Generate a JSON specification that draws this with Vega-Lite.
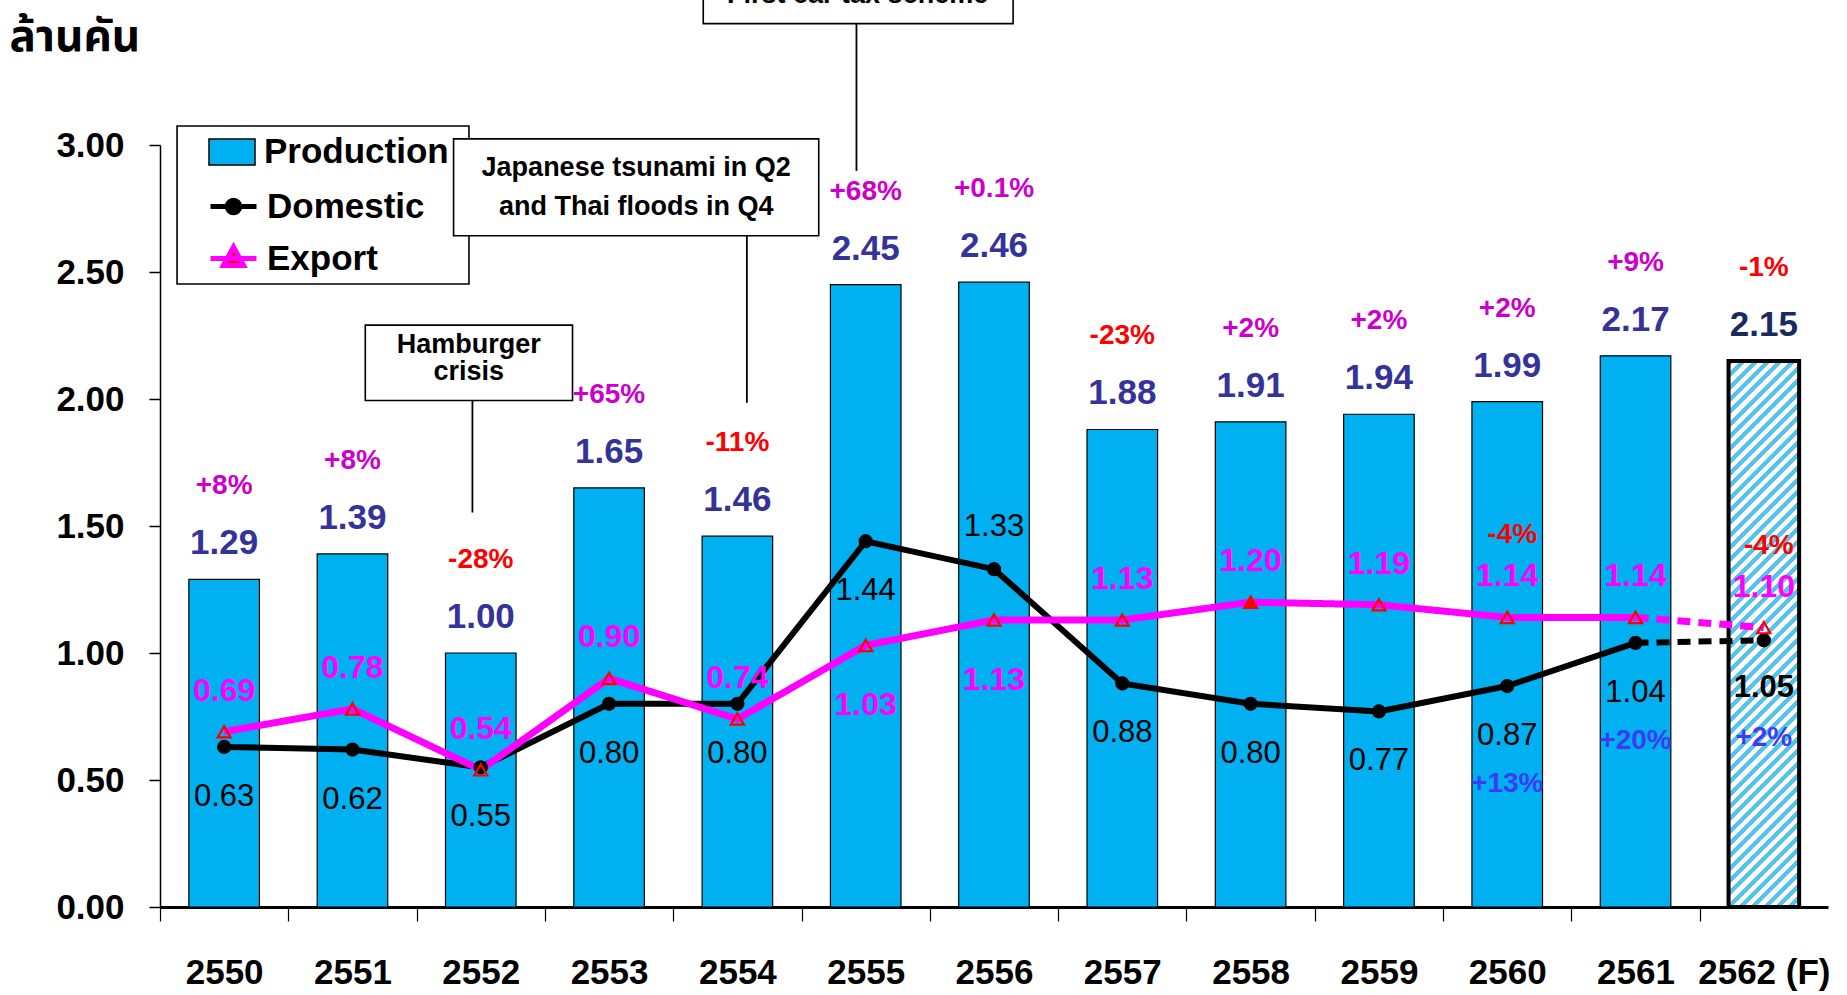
{
  "$schema": "https://vega.github.io/schema/vega-lite/v6.json",
  "width": 1668,
  "height": 762,
  "autosize": {"type": "none"},
  "padding": {"left": 160, "top": 145, "right": 19, "bottom": 88},
  "background": "white",
  "config": {"view": {"stroke": null}, "font": "Liberation Sans"},
  "datasets": {
    "main": [
      {"year": "2550", "prod": 1.29, "dom": 0.63, "exp": 0.69, "pg": "+8%"},
      {"year": "2551", "prod": 1.39, "dom": 0.62, "exp": 0.78, "pg": "+8%"},
      {"year": "2552", "prod": 1.00, "dom": 0.55, "exp": 0.54, "pg": "-28%"},
      {"year": "2553", "prod": 1.65, "dom": 0.80, "exp": 0.90, "pg": "+65%"},
      {"year": "2554", "prod": 1.46, "dom": 0.80, "exp": 0.74, "pg": "-11%"},
      {"year": "2555", "prod": 2.45, "dom": 1.44, "exp": 1.03, "pg": "+68%"},
      {"year": "2556", "prod": 2.46, "dom": 1.33, "exp": 1.13, "pg": "+0.1%"},
      {"year": "2557", "prod": 1.88, "dom": 0.88, "exp": 1.13, "pg": "-23%"},
      {"year": "2558", "prod": 1.91, "dom": 0.80, "exp": 1.20, "pg": "+2%"},
      {"year": "2559", "prod": 1.94, "dom": 0.77, "exp": 1.19, "pg": "+2%"},
      {"year": "2560", "prod": 1.99, "dom": 0.87, "exp": 1.14, "pg": "+2%", "dg": "+13%", "eg": "-4%"},
      {"year": "2561", "prod": 2.17, "dom": 1.04, "exp": 1.14, "pg": "+9%", "dg": "+20%"},
      {"year": "2562 (F)", "prod": 2.15, "dom": 1.05, "exp": 1.10, "pg": "-1%", "dg": "+2%", "eg": "-4%"}
    ],
    "ann": [
      {"kind": "box", "x": 0.133, "x2": 2.408, "y": 3.075, "y2": 2.453},
      {"kind": "box", "x": 1.60, "x2": 3.215, "y": 2.291, "y2": 1.994},
      {"kind": "box", "x": 2.288, "x2": 5.134, "y": 3.024, "y2": 2.643},
      {"kind": "box", "x": 4.234, "x2": 6.649, "y": 3.8, "y2": 3.478},
      {"kind": "rule", "x": 2.435, "y": 1.994, "y2": 1.553},
      {"kind": "rule", "x": 4.574, "y": 2.643, "y2": 1.985},
      {"kind": "rule", "x": 5.428, "y": 3.478, "y2": 2.898},
      {"kind": "text", "x": 2.407, "y": 2.213, "text": "Hamburger"},
      {"kind": "text", "x": 2.407, "y": 2.106, "text": "crisis"},
      {"kind": "text", "x": 3.711, "y": 2.908, "text": "Japanese tsunami in Q2"},
      {"kind": "text", "x": 3.711, "y": 2.755, "text": "and Thai floods in Q4"},
      {"kind": "text", "x": 5.437, "y": 3.59, "text": "First car tax scheme"}
    ]
  },
  "layer": [
    {
      "data": {"name": "ann"},
      "layer": [
        {
          "transform": [{"filter": "datum.kind === 'box'"}],
          "mark": {"type": "rect", "fill": "white", "stroke": "black", "strokeWidth": 1.6, "clip": false},
          "encoding": {
            "x": {"field": "x", "type": "quantitative", "scale": {"domain": [0, 13], "nice": false, "zero": false}, "axis": null},
            "x2": {"field": "x2"},
            "y": {"field": "y", "type": "quantitative", "scale": {"domain": [0, 3], "nice": false}},
            "y2": {"field": "y2"}
          }
        },
        {
          "transform": [{"filter": "datum.kind === 'rule'"}],
          "mark": {"type": "rule", "stroke": "black", "strokeWidth": 1.8},
          "encoding": {
            "x": {"field": "x", "type": "quantitative", "axis": null},
            "y": {"field": "y", "type": "quantitative"},
            "y2": {"field": "y2"}
          }
        },
        {
          "transform": [{"filter": "datum.kind === 'text'"}],
          "mark": {"type": "text", "font": "Liberation Sans", "fontSize": 27, "fontWeight": "bold", "fill": "black", "baseline": "middle", "align": "center"},
          "encoding": {
            "x": {"field": "x", "type": "quantitative", "axis": null},
            "y": {"field": "y", "type": "quantitative"},
            "text": {"field": "text", "type": "nominal"}
          }
        }
      ]
    },
    {
      "data": {"name": "main"},
      "layer": [
        {
          "transform": [{"filter": "datum.year !== '2562 (F)'"}],
          "mark": {"type": "bar", "stroke": "black", "strokeWidth": 1.2},
          "encoding": {
            "x": {
              "field": "year", "type": "nominal",
              "scale": {"paddingInner": 0.45, "paddingOuter": 0.225},
              "axis": {
                "title": null, "labelAngle": 0, "labelOverlap": false, "labelFlush": false,
                "labelFont": "Liberation Sans", "labelFontSize": 35, "labelFontWeight": "bold", "labelColor": "black",
                "labelPadding": 34, "labelBaseline": "top",
                "tickSize": 14, "tickColor": "black", "tickWidth": 1.2,
                "domainColor": "black", "domainWidth": 3,
                "bandPosition": 0, "tickOffset": -28.9, "labelOffset": 28.9
              }
            },
            "y": {
              "field": "prod", "type": "quantitative",
              "scale": {"domain": [0, 3], "nice": false},
              "axis": {
                "values": [0, 0.5, 1, 1.5, 2, 2.5, 3], "format": ".2f", "grid": false,
                "labelFont": "Liberation Sans", "labelFontSize": 35, "labelFontWeight": "bold", "labelColor": "black",
                "labelPadding": 25, "tickSize": 11, "tickColor": "black", "tickWidth": 1.5,
                "domainColor": "black", "domainWidth": 1.5,
                "title": "ล้านคัน", "titleAngle": 0, "titleAlign": "left", "titleBaseline": "alphabetic",
                "titleX": -151, "titleY": -95,
                "titleFont": "Noto Sans Thai, Tahoma, Garuda, Loma, DejaVu Sans, sans-serif",
                "titleFontSize": 44, "titleFontWeight": "bold", "titleColor": "black"
              }
            },
            "fill": {
              "datum": "Production", "type": "nominal",
              "scale": {"range": ["#00b0f0"]},
              "legend": {
                "orient": "none", "legendX": 48, "legendY": -17, "title": null, "padding": 0,
                "symbolType": "M-1,-0.57H1V0.57H-1Z", "symbolSize": 2116,
                "symbolStrokeColor": "black", "symbolStrokeWidth": 1.5, "symbolOpacity": 1,
                "labelFont": "Liberation Sans", "labelFontSize": 35, "labelFontWeight": "bold",
                "labelColor": "black", "labelOffset": 8, "labelLimit": 400
              }
            }
          }
        },
        {
          "transform": [{"filter": "datum.year === '2562 (F)'"}],
          "mark": {
            "type": "bar", "stroke": "black", "strokeWidth": 4,
            "fill": {
              "gradient": "linear", "x1": 0, "y1": 0, "x2": 0.1436, "y2": 1.1107,
              "stops": [
                {"offset": 0, "color": "#55c3ee"}, {"offset": 0.01, "color": "#55c3ee"}, {"offset": 0.01, "color": "#ffffff"}, {"offset": 0.02, "color": "#ffffff"},
                {"offset": 0.02, "color": "#55c3ee"}, {"offset": 0.03, "color": "#55c3ee"}, {"offset": 0.03, "color": "#ffffff"}, {"offset": 0.04, "color": "#ffffff"},
                {"offset": 0.04, "color": "#55c3ee"}, {"offset": 0.05, "color": "#55c3ee"}, {"offset": 0.05, "color": "#ffffff"}, {"offset": 0.06, "color": "#ffffff"},
                {"offset": 0.06, "color": "#55c3ee"}, {"offset": 0.07, "color": "#55c3ee"}, {"offset": 0.07, "color": "#ffffff"}, {"offset": 0.08, "color": "#ffffff"},
                {"offset": 0.08, "color": "#55c3ee"}, {"offset": 0.09, "color": "#55c3ee"}, {"offset": 0.09, "color": "#ffffff"}, {"offset": 0.10, "color": "#ffffff"},
                {"offset": 0.10, "color": "#55c3ee"}, {"offset": 0.11, "color": "#55c3ee"}, {"offset": 0.11, "color": "#ffffff"}, {"offset": 0.12, "color": "#ffffff"},
                {"offset": 0.12, "color": "#55c3ee"}, {"offset": 0.13, "color": "#55c3ee"}, {"offset": 0.13, "color": "#ffffff"}, {"offset": 0.14, "color": "#ffffff"},
                {"offset": 0.14, "color": "#55c3ee"}, {"offset": 0.15, "color": "#55c3ee"}, {"offset": 0.15, "color": "#ffffff"}, {"offset": 0.16, "color": "#ffffff"},
                {"offset": 0.16, "color": "#55c3ee"}, {"offset": 0.17, "color": "#55c3ee"}, {"offset": 0.17, "color": "#ffffff"}, {"offset": 0.18, "color": "#ffffff"},
                {"offset": 0.18, "color": "#55c3ee"}, {"offset": 0.19, "color": "#55c3ee"}, {"offset": 0.19, "color": "#ffffff"}, {"offset": 0.20, "color": "#ffffff"},
                {"offset": 0.20, "color": "#55c3ee"}, {"offset": 0.21, "color": "#55c3ee"}, {"offset": 0.21, "color": "#ffffff"}, {"offset": 0.22, "color": "#ffffff"},
                {"offset": 0.22, "color": "#55c3ee"}, {"offset": 0.23, "color": "#55c3ee"}, {"offset": 0.23, "color": "#ffffff"}, {"offset": 0.24, "color": "#ffffff"},
                {"offset": 0.24, "color": "#55c3ee"}, {"offset": 0.25, "color": "#55c3ee"}, {"offset": 0.25, "color": "#ffffff"}, {"offset": 0.26, "color": "#ffffff"},
                {"offset": 0.26, "color": "#55c3ee"}, {"offset": 0.27, "color": "#55c3ee"}, {"offset": 0.27, "color": "#ffffff"}, {"offset": 0.28, "color": "#ffffff"},
                {"offset": 0.28, "color": "#55c3ee"}, {"offset": 0.29, "color": "#55c3ee"}, {"offset": 0.29, "color": "#ffffff"}, {"offset": 0.30, "color": "#ffffff"},
                {"offset": 0.30, "color": "#55c3ee"}, {"offset": 0.31, "color": "#55c3ee"}, {"offset": 0.31, "color": "#ffffff"}, {"offset": 0.32, "color": "#ffffff"},
                {"offset": 0.32, "color": "#55c3ee"}, {"offset": 0.33, "color": "#55c3ee"}, {"offset": 0.33, "color": "#ffffff"}, {"offset": 0.34, "color": "#ffffff"},
                {"offset": 0.34, "color": "#55c3ee"}, {"offset": 0.35, "color": "#55c3ee"}, {"offset": 0.35, "color": "#ffffff"}, {"offset": 0.36, "color": "#ffffff"},
                {"offset": 0.36, "color": "#55c3ee"}, {"offset": 0.37, "color": "#55c3ee"}, {"offset": 0.37, "color": "#ffffff"}, {"offset": 0.38, "color": "#ffffff"},
                {"offset": 0.38, "color": "#55c3ee"}, {"offset": 0.39, "color": "#55c3ee"}, {"offset": 0.39, "color": "#ffffff"}, {"offset": 0.40, "color": "#ffffff"},
                {"offset": 0.40, "color": "#55c3ee"}, {"offset": 0.41, "color": "#55c3ee"}, {"offset": 0.41, "color": "#ffffff"}, {"offset": 0.42, "color": "#ffffff"},
                {"offset": 0.42, "color": "#55c3ee"}, {"offset": 0.43, "color": "#55c3ee"}, {"offset": 0.43, "color": "#ffffff"}, {"offset": 0.44, "color": "#ffffff"},
                {"offset": 0.44, "color": "#55c3ee"}, {"offset": 0.45, "color": "#55c3ee"}, {"offset": 0.45, "color": "#ffffff"}, {"offset": 0.46, "color": "#ffffff"},
                {"offset": 0.46, "color": "#55c3ee"}, {"offset": 0.47, "color": "#55c3ee"}, {"offset": 0.47, "color": "#ffffff"}, {"offset": 0.48, "color": "#ffffff"},
                {"offset": 0.48, "color": "#55c3ee"}, {"offset": 0.49, "color": "#55c3ee"}, {"offset": 0.49, "color": "#ffffff"}, {"offset": 0.50, "color": "#ffffff"},
                {"offset": 0.50, "color": "#55c3ee"}, {"offset": 0.51, "color": "#55c3ee"}, {"offset": 0.51, "color": "#ffffff"}, {"offset": 0.52, "color": "#ffffff"},
                {"offset": 0.52, "color": "#55c3ee"}, {"offset": 0.53, "color": "#55c3ee"}, {"offset": 0.53, "color": "#ffffff"}, {"offset": 0.54, "color": "#ffffff"},
                {"offset": 0.54, "color": "#55c3ee"}, {"offset": 0.55, "color": "#55c3ee"}, {"offset": 0.55, "color": "#ffffff"}, {"offset": 0.56, "color": "#ffffff"},
                {"offset": 0.56, "color": "#55c3ee"}, {"offset": 0.57, "color": "#55c3ee"}, {"offset": 0.57, "color": "#ffffff"}, {"offset": 0.58, "color": "#ffffff"},
                {"offset": 0.58, "color": "#55c3ee"}, {"offset": 0.59, "color": "#55c3ee"}, {"offset": 0.59, "color": "#ffffff"}, {"offset": 0.60, "color": "#ffffff"},
                {"offset": 0.60, "color": "#55c3ee"}, {"offset": 0.61, "color": "#55c3ee"}, {"offset": 0.61, "color": "#ffffff"}, {"offset": 0.62, "color": "#ffffff"},
                {"offset": 0.62, "color": "#55c3ee"}, {"offset": 0.63, "color": "#55c3ee"}, {"offset": 0.63, "color": "#ffffff"}, {"offset": 0.64, "color": "#ffffff"},
                {"offset": 0.64, "color": "#55c3ee"}, {"offset": 0.65, "color": "#55c3ee"}, {"offset": 0.65, "color": "#ffffff"}, {"offset": 0.66, "color": "#ffffff"},
                {"offset": 0.66, "color": "#55c3ee"}, {"offset": 0.67, "color": "#55c3ee"}, {"offset": 0.67, "color": "#ffffff"}, {"offset": 0.68, "color": "#ffffff"},
                {"offset": 0.68, "color": "#55c3ee"}, {"offset": 0.69, "color": "#55c3ee"}, {"offset": 0.69, "color": "#ffffff"}, {"offset": 0.70, "color": "#ffffff"},
                {"offset": 0.70, "color": "#55c3ee"}, {"offset": 0.71, "color": "#55c3ee"}, {"offset": 0.71, "color": "#ffffff"}, {"offset": 0.72, "color": "#ffffff"},
                {"offset": 0.72, "color": "#55c3ee"}, {"offset": 0.73, "color": "#55c3ee"}, {"offset": 0.73, "color": "#ffffff"}, {"offset": 0.74, "color": "#ffffff"},
                {"offset": 0.74, "color": "#55c3ee"}, {"offset": 0.75, "color": "#55c3ee"}, {"offset": 0.75, "color": "#ffffff"}, {"offset": 0.76, "color": "#ffffff"},
                {"offset": 0.76, "color": "#55c3ee"}, {"offset": 0.77, "color": "#55c3ee"}, {"offset": 0.77, "color": "#ffffff"}, {"offset": 0.78, "color": "#ffffff"},
                {"offset": 0.78, "color": "#55c3ee"}, {"offset": 0.79, "color": "#55c3ee"}, {"offset": 0.79, "color": "#ffffff"}, {"offset": 0.80, "color": "#ffffff"},
                {"offset": 0.80, "color": "#55c3ee"}, {"offset": 0.81, "color": "#55c3ee"}, {"offset": 0.81, "color": "#ffffff"}, {"offset": 0.82, "color": "#ffffff"},
                {"offset": 0.82, "color": "#55c3ee"}, {"offset": 0.83, "color": "#55c3ee"}, {"offset": 0.83, "color": "#ffffff"}, {"offset": 0.84, "color": "#ffffff"},
                {"offset": 0.84, "color": "#55c3ee"}, {"offset": 0.85, "color": "#55c3ee"}, {"offset": 0.85, "color": "#ffffff"}, {"offset": 0.86, "color": "#ffffff"},
                {"offset": 0.86, "color": "#55c3ee"}, {"offset": 0.87, "color": "#55c3ee"}, {"offset": 0.87, "color": "#ffffff"}, {"offset": 0.88, "color": "#ffffff"},
                {"offset": 0.88, "color": "#55c3ee"}, {"offset": 0.89, "color": "#55c3ee"}, {"offset": 0.89, "color": "#ffffff"}, {"offset": 0.90, "color": "#ffffff"},
                {"offset": 0.90, "color": "#55c3ee"}, {"offset": 0.91, "color": "#55c3ee"}, {"offset": 0.91, "color": "#ffffff"}, {"offset": 0.92, "color": "#ffffff"},
                {"offset": 0.92, "color": "#55c3ee"}, {"offset": 0.93, "color": "#55c3ee"}, {"offset": 0.93, "color": "#ffffff"}, {"offset": 0.94, "color": "#ffffff"},
                {"offset": 0.94, "color": "#55c3ee"}, {"offset": 0.95, "color": "#55c3ee"}, {"offset": 0.95, "color": "#ffffff"}, {"offset": 0.96, "color": "#ffffff"},
                {"offset": 0.96, "color": "#55c3ee"}, {"offset": 0.97, "color": "#55c3ee"}, {"offset": 0.97, "color": "#ffffff"}, {"offset": 0.98, "color": "#ffffff"},
                {"offset": 0.98, "color": "#55c3ee"}, {"offset": 0.99, "color": "#55c3ee"}, {"offset": 0.99, "color": "#ffffff"}, {"offset": 1, "color": "#ffffff"}
              ]
            }
          },
          "encoding": {
            "x": {"field": "year", "type": "nominal"},
            "y": {"field": "prod", "type": "quantitative"}
          }
        },
        {
          "transform": [{"filter": "datum.year !== '2562 (F)'"}],
          "mark": {"type": "line", "strokeWidth": 6},
          "encoding": {
            "x": {"field": "year", "type": "nominal"},
            "y": {"field": "dom", "type": "quantitative"},
            "stroke": {
              "datum": "Domestic", "type": "nominal",
              "scale": {"range": ["black"]},
              "legend": {
                "orient": "none", "legendX": 48, "legendY": 36, "title": null, "padding": 0,
                "symbolType": "M-1,0H1M-0.27,0A0.27,0.27,0,1,0,0.27,0A0.27,0.27,0,1,0,-0.27,0Z", "symbolSize": 2116,
                "symbolFillColor": "black", "symbolStrokeColor": "black", "symbolStrokeWidth": 5, "symbolOpacity": 1,
                "labelFont": "Liberation Sans", "labelFontSize": 35, "labelFontWeight": "bold",
                "labelColor": "black", "labelOffset": 8, "labelLimit": 400
              }
            }
          }
        },
        {
          "transform": [{"filter": "datum.year === '2561' || datum.year === '2562 (F)'"}],
          "mark": {"type": "line", "strokeWidth": 6, "stroke": "black", "strokeDash": [13, 8]},
          "encoding": {
            "x": {"field": "year", "type": "nominal"},
            "y": {"field": "dom", "type": "quantitative"}
          }
        },
        {
          "transform": [{"filter": "datum.year !== '2562 (F)'"}],
          "mark": {"type": "line", "strokeWidth": 7, "stroke": "#ff00ff"},
          "encoding": {
            "x": {"field": "year", "type": "nominal"},
            "y": {"field": "exp", "type": "quantitative"},
            "strokeDash": {
              "datum": "Export", "type": "nominal",
              "scale": {"range": [[1, 0]]},
              "legend": {
                "orient": "none", "legendX": 48, "legendY": 88, "title": null, "padding": 0,
                "symbolType": "M-1,0H1M0,-0.5L0.44,0.3L-0.44,0.3Z", "symbolSize": 2116,
                "symbolFillColor": "red", "symbolStrokeColor": "#ff00ff", "symbolStrokeWidth": 5, "symbolOpacity": 1,
                "labelFont": "Liberation Sans", "labelFontSize": 35, "labelFontWeight": "bold",
                "labelColor": "black", "labelOffset": 8, "labelLimit": 400
              }
            }
          }
        },
        {
          "transform": [{"filter": "datum.year === '2561' || datum.year === '2562 (F)'"}],
          "mark": {"type": "line", "strokeWidth": 7, "stroke": "#ff00ff", "strokeDash": [13, 8]},
          "encoding": {
            "x": {"field": "year", "type": "nominal"},
            "y": {"field": "exp", "type": "quantitative"}
          }
        },
        {
          "mark": {"type": "point", "shape": "circle", "filled": true, "fill": "black", "stroke": "black", "size": 150, "opacity": 1},
          "encoding": {
            "x": {"field": "year", "type": "nominal"},
            "y": {"field": "dom", "type": "quantitative"}
          }
        },
        {
          "mark": {"type": "point", "shape": "triangle-up", "stroke": "red", "strokeWidth": 2.2, "size": 170, "opacity": 1},
          "encoding": {
            "x": {"field": "year", "type": "nominal"},
            "y": {"field": "exp", "type": "quantitative"},
            "fill": {"condition": {"test": "datum.year === '2558'", "value": "red"}, "value": "transparent"}
          }
        },
        {
          "mark": {"type": "text", "baseline": "alphabetic", "dy": -25, "font": "Liberation Sans", "fontSize": 35, "fontWeight": "bold"},
          "encoding": {
            "x": {"field": "year", "type": "nominal"},
            "y": {"field": "prod", "type": "quantitative"},
            "text": {"field": "prod", "type": "quantitative", "format": ".2f"},
            "fill": {"condition": {"test": "datum.year === '2562 (F)'", "value": "#1b2a5e"}, "value": "#333399"}
          }
        },
        {
          "mark": {"type": "text", "baseline": "alphabetic", "dy": -85, "font": "Liberation Sans", "fontSize": 28, "fontWeight": "bold"},
          "encoding": {
            "x": {"field": "year", "type": "nominal"},
            "y": {"field": "prod", "type": "quantitative"},
            "text": {"field": "pg", "type": "nominal"},
            "fill": {"condition": {"test": "indexof(datum.pg, '-') === 0", "value": "#ff0000"}, "value": "#cc00cc"}
          }
        },
        {
          "transform": [{"filter": "datum.year !== '2556' && datum.year !== '2562 (F)'"}],
          "mark": {"type": "text", "baseline": "middle", "dy": 50, "font": "Liberation Sans", "fontSize": 31, "fill": "black"},
          "encoding": {
            "x": {"field": "year", "type": "nominal"},
            "y": {"field": "dom", "type": "quantitative"},
            "text": {"field": "dom", "type": "quantitative", "format": ".2f"}
          }
        },
        {
          "transform": [{"filter": "datum.year === '2556'"}],
          "mark": {"type": "text", "baseline": "middle", "dy": -42, "font": "Liberation Sans", "fontSize": 31, "fill": "black"},
          "encoding": {
            "x": {"field": "year", "type": "nominal"},
            "y": {"field": "dom", "type": "quantitative"},
            "text": {"field": "dom", "type": "quantitative", "format": ".2f"}
          }
        },
        {
          "transform": [{"filter": "datum.year === '2562 (F)'"}],
          "mark": {"type": "text", "baseline": "middle", "dy": 48, "font": "Liberation Sans", "fontSize": 31, "fontWeight": "bold", "fill": "black"},
          "encoding": {
            "x": {"field": "year", "type": "nominal"},
            "y": {"field": "dom", "type": "quantitative"},
            "text": {"field": "dom", "type": "quantitative", "format": ".2f"}
          }
        },
        {
          "transform": [{"filter": "isValid(datum.dg)"}],
          "mark": {"type": "text", "baseline": "middle", "dy": 98, "font": "Liberation Sans", "fontSize": 28, "fontWeight": "bold", "fill": "#3c3cf5"},
          "encoding": {
            "x": {"field": "year", "type": "nominal"},
            "y": {"field": "dom", "type": "quantitative"},
            "text": {"field": "dg", "type": "nominal"}
          }
        },
        {
          "transform": [{"filter": "datum.year !== '2555' && datum.year !== '2556'"}],
          "mark": {"type": "text", "baseline": "middle", "dy": -41, "font": "Liberation Sans", "fontSize": 32, "fontWeight": "bold", "fill": "#ff00ff"},
          "encoding": {
            "x": {"field": "year", "type": "nominal"},
            "y": {"field": "exp", "type": "quantitative"},
            "text": {"field": "exp", "type": "quantitative", "format": ".2f"}
          }
        },
        {
          "transform": [{"filter": "datum.year === '2555' || datum.year === '2556'"}],
          "mark": {"type": "text", "baseline": "middle", "dy": 60, "font": "Liberation Sans", "fontSize": 32, "fontWeight": "bold", "fill": "#ff00ff"},
          "encoding": {
            "x": {"field": "year", "type": "nominal"},
            "y": {"field": "exp", "type": "quantitative"},
            "text": {"field": "exp", "type": "quantitative", "format": ".2f"}
          }
        },
        {
          "transform": [{"filter": "isValid(datum.eg)"}],
          "mark": {"type": "text", "baseline": "middle", "dy": -82, "dx": 5, "font": "Liberation Sans", "fontSize": 28, "fontWeight": "bold", "fill": "#ff0000"},
          "encoding": {
            "x": {"field": "year", "type": "nominal"},
            "y": {"field": "exp", "type": "quantitative"},
            "text": {"field": "eg", "type": "nominal"}
          }
        }
      ]
    }
  ],
  "resolve": {"scale": {"x": "independent"}}
}
